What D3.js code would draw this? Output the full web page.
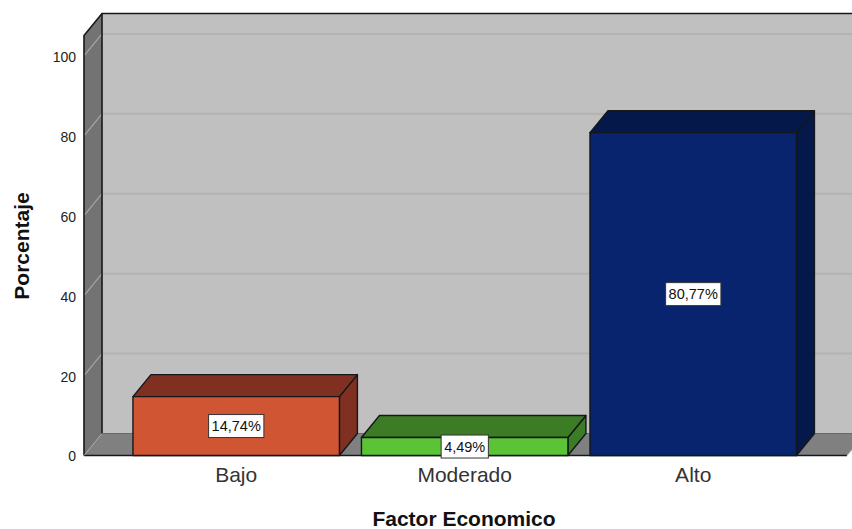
<!DOCTYPE html>
<html>
<head>
<meta charset="utf-8">
<script src="https://cdn.jsdelivr.net/npm/d3@7/dist/d3.min.js"></script>
<style>
html,body{margin:0;padding:0;background:#fff;overflow:hidden}
svg{display:block;font-family:"Liberation Sans",Arial,sans-serif}
</style>
</head>
<body>
<svg id="chart" width="852" height="529"></svg>
<script>
const categories = ["Bajo", "Moderado", "Alto"];
const percentages = [14.74, 4.49, 80.77];
const valueLabels = ["14,74%", "4,49%", "80,77%"];
const frontColors = ["#d05532", "#5cc337", "#08246e"];
const sideColors = ["#803020", "#3c7c25", "#05184a"];
const yTicks = [0, 20, 40, 60, 80, 100];
const xTitle = "Factor Economico";
const yTitle = "Porcentaje";

const width = 852, height = 529;
const depthX = 18, depthY = -22;
const plot = {left: 84, right: 847, bottom: 455.5, top: 35.5};

const svg = d3.select("#chart");
const y = d3.scaleLinear().domain([0, 100]).range([plot.bottom, 55.9]);
const x = d3.scaleBand().domain(categories).range([110.9, 818.5]).padding(0.0965);

const outline = "#14181c";
const poly = (pts, fill, stroke, sw) => svg.append("polygon")
  .attr("points", pts.map(p => p.join(",")).join(" "))
  .attr("fill", fill).attr("stroke", stroke || "none")
  .attr("stroke-width", sw || 0).attr("stroke-linejoin", "round");

// Box walls: back, left side, floor
const L = plot.left, R = plot.right, B = plot.bottom, T = plot.top;
poly([[L + depthX, T + depthY], [width + 20, T + depthY], [width + 20, B + depthY], [L + depthX, B + depthY]], "#c0c0c0");
poly([[L, T], [L + depthX, T + depthY], [L + depthX, B + depthY], [L, B]], "#737373");
poly([[L, B], [L + depthX, B + depthY], [R + depthX, B + depthY], [R, B]], "#808080");

// Gridlines run across the back wall and down the side wall
const grid = yTicks.filter(v => v > 0);
svg.append("g").selectAll("line").data(grid).join("line")
  .attr("x1", L + depthX).attr("x2", width)
  .attr("y1", d => y(d) + depthY).attr("y2", d => y(d) + depthY)
  .attr("stroke", "#b3b3b3").attr("stroke-width", 2);
svg.append("g").selectAll("line").data(grid).join("line")
  .attr("x1", L).attr("x2", L + depthX)
  .attr("y1", d => y(d)).attr("y2", d => y(d) + depthY)
  .attr("stroke", "#a6a6a6").attr("stroke-width", 1.2);

// Box edges
const edges = svg.append("g").attr("fill", "none").attr("stroke", outline).attr("stroke-width", 1.6);
edges.append("path").attr("d", `M${L},${B}V${T}L${L + depthX},${T + depthY}H${width}`);
edges.append("path").attr("d", `M${L + depthX},${T + depthY}V${B + depthY}`);
edges.append("path").attr("d", `M${L},${B}H${R}`);
svg.append("line").attr("x1", L).attr("x2", L + depthX)
  .attr("y1", B).attr("y2", B + depthY).attr("stroke", "#a6a6a6").attr("stroke-width", 1);
svg.append("line").attr("x1", L + depthX).attr("x2", width)
  .attr("y1", B + depthY).attr("y2", B + depthY).attr("stroke", "#6a6a6a").attr("stroke-width", 1);
svg.append("line").attr("x1", R).attr("x2", R + depthX)
  .attr("y1", B).attr("y2", B + depthY).attr("stroke", "#a6a6a6").attr("stroke-width", 1);

// Bars as extruded boxes
categories.forEach((c, i) => {
  const x0 = x(c), x1 = x0 + x.bandwidth(), yv = y(percentages[i]), y0 = y(0);
  poly([[x1, yv], [x1 + depthX, yv + depthY], [x1 + depthX, y0 + depthY], [x1, y0]], sideColors[i], outline, 1.4);
  poly([[x0, yv], [x0 + depthX, yv + depthY], [x1 + depthX, yv + depthY], [x1, yv]], sideColors[i], outline, 1.4);
  poly([[x0, yv], [x1, yv], [x1, y0], [x0, y0]], frontColors[i], outline, 1.4);
});

// Value labels in white boxes at each bar's vertical centre
const tags = svg.append("g").selectAll("g").data(categories).join("g")
  .attr("transform", (c, i) => `translate(${x(c) + x.bandwidth() / 2},${(y(percentages[i]) + y(0)) / 2})`);
tags.append("text").text((c, i) => valueLabels[i])
  .attr("text-anchor", "middle").attr("dy", "0.36em")
  .attr("font-size", 14.5).attr("fill", "#111");
tags.insert("rect", "text").each(function () {
  const b = this.parentNode.querySelector("text").getBBox();
  d3.select(this).attr("x", b.x - 3).attr("y", -11.5).attr("width", b.width + 6).attr("height", 23);
}).attr("fill", "#fff").attr("stroke", "#333").attr("stroke-width", 1);

// Axes
const yAxis = svg.append("g").attr("transform", `translate(${L},1)`)
  .call(d3.axisLeft(y).tickValues(yTicks).tickSize(0).tickPadding(8).tickFormat(d3.format("d")));
yAxis.select(".domain").remove();
yAxis.selectAll("text").attr("font-size", 14).attr("fill", "#222")
  .attr("font-family", "'Liberation Sans',Arial,sans-serif");

const xAxis = svg.append("g").attr("transform", `translate(0,${B})`)
  .call(d3.axisBottom(x).tickSize(0).tickPadding(12));
xAxis.select(".domain").remove();
xAxis.selectAll("text").attr("font-size", 21).attr("fill", "#333")
  .attr("font-family", "'Liberation Sans',Arial,sans-serif");

// Axis titles
svg.append("text").text(xTitle).attr("x", 464).attr("y", 526)
  .attr("text-anchor", "middle").attr("font-size", 21).attr("font-weight", "bold").attr("fill", "#111");
svg.append("text").text(yTitle).attr("transform", "translate(29,246) rotate(-90)")
  .attr("text-anchor", "middle").attr("font-size", 21).attr("font-weight", "bold").attr("fill", "#111");
</script>
</body>
</html>
